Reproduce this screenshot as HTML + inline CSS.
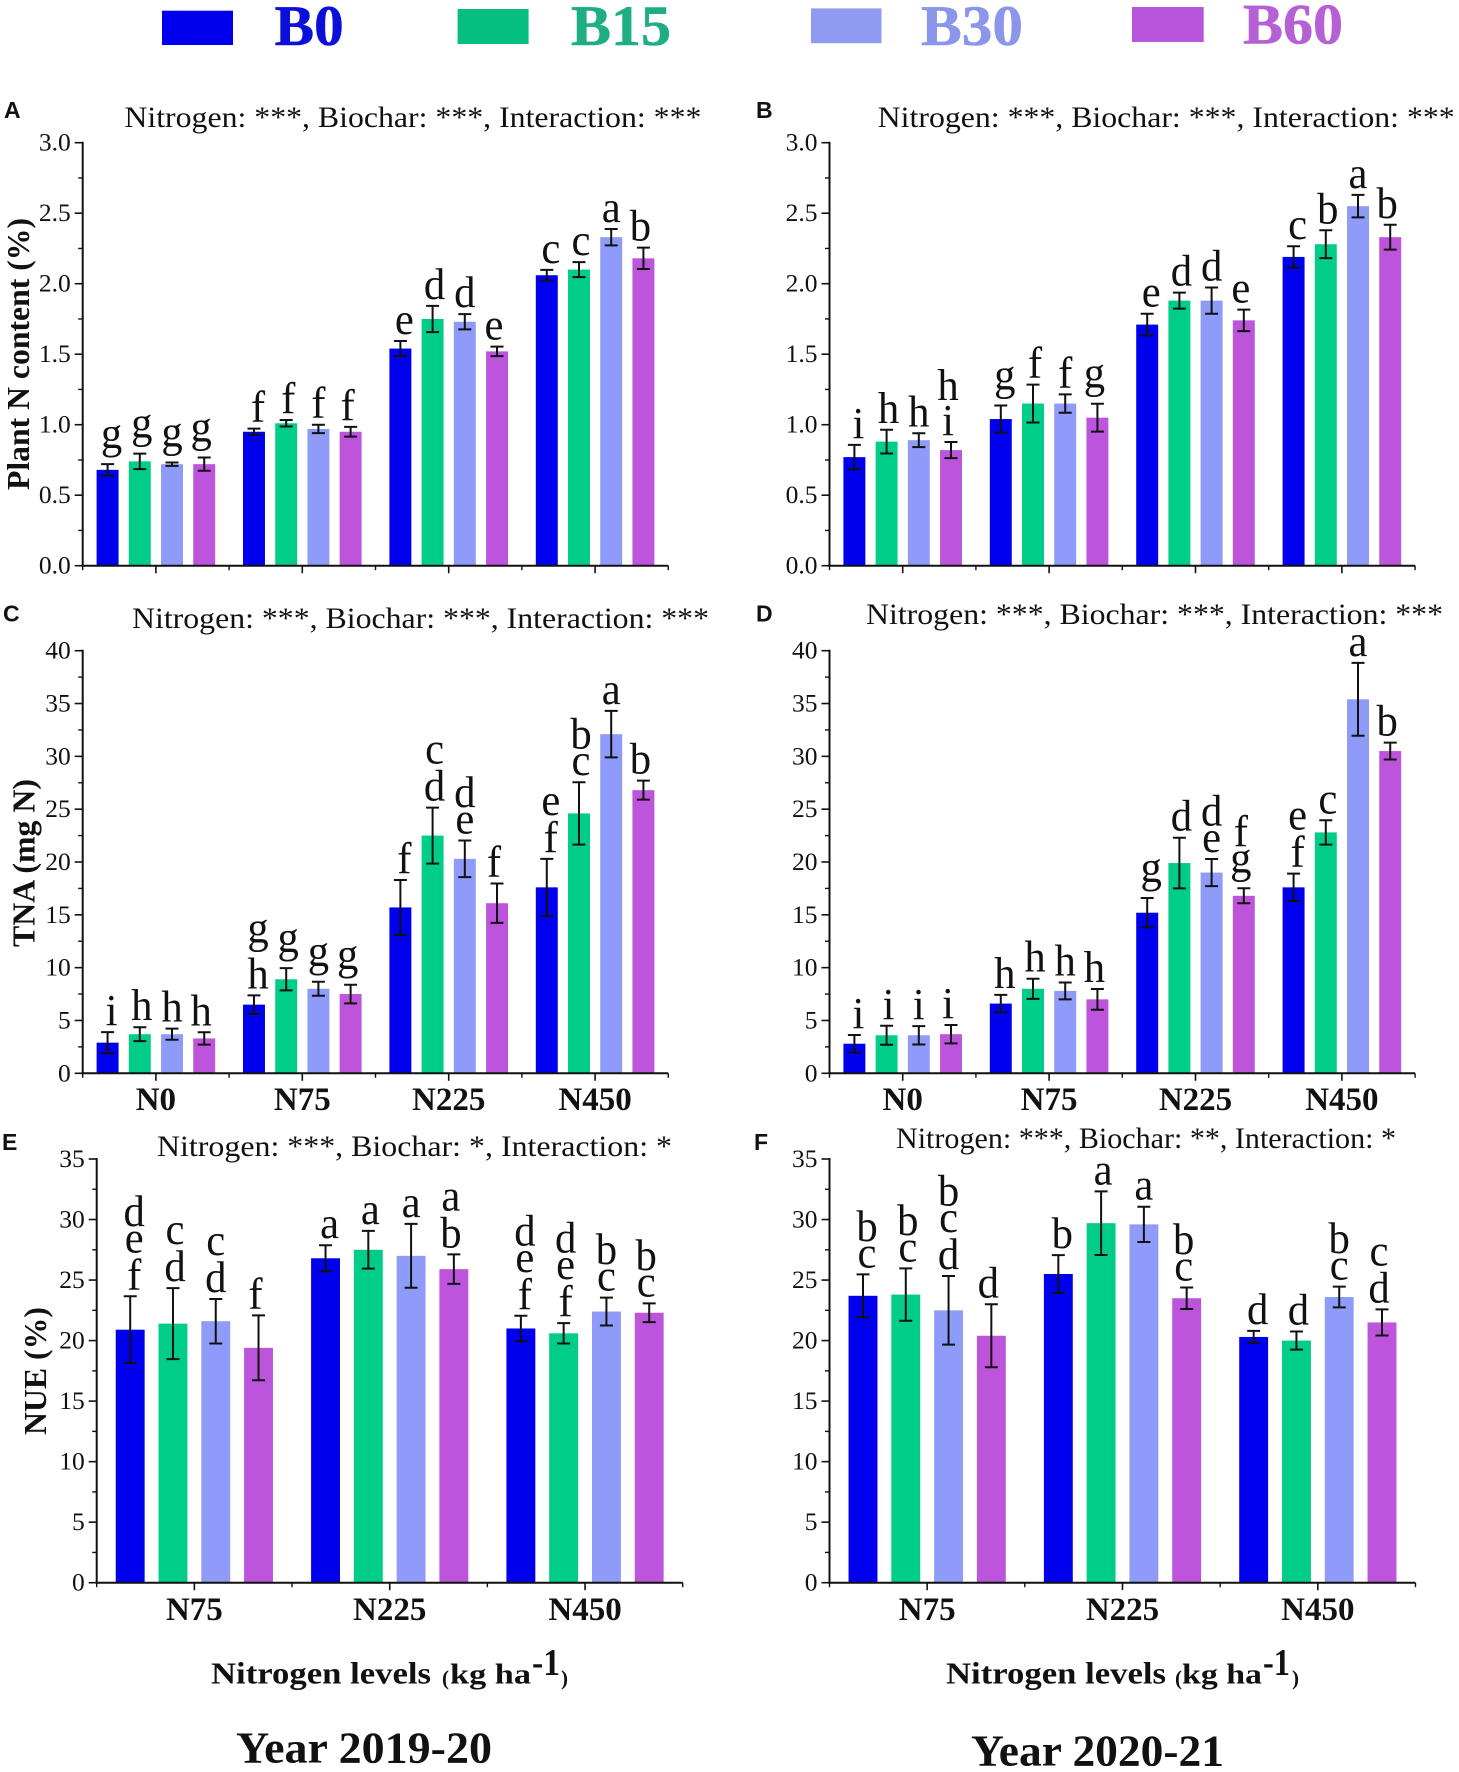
<!DOCTYPE html>
<html lang="en">
<head>
<meta charset="utf-8">
<title>Plant N content, TNA and NUE by nitrogen and biochar levels</title>
<style>
html,body{margin:0;padding:0;background:#fff;width:1459px;height:1772px;overflow:hidden}
svg{display:block}
text{font-family:"Liberation Serif",serif;fill:#111}
.b{font-weight:bold}
.sans{font-family:"Liberation Sans",sans-serif;font-weight:bold}
</style>
</head>
<body>
<svg id="figure" xmlns="http://www.w3.org/2000/svg" width="1459" height="1772" viewBox="0 0 1459 1772">
  <rect x="0" y="0" width="1459" height="1772" fill="#fff"/>

  <g>
    <rect x="162" y="10.7" width="71" height="34.3" fill="#0000ee"/>
    <text class="b" x="274.7" y="45" font-size="57" textLength="69" lengthAdjust="spacingAndGlyphs" style="fill:#0a10d8;stroke:#0a10d8;stroke-width:.6">B0</text>
    <rect x="457.6" y="9" width="71" height="35" fill="#05bf80"/>
    <text class="b" x="571" y="45" font-size="57" textLength="100" lengthAdjust="spacingAndGlyphs" style="fill:#1fae84;stroke:#1fae84;stroke-width:.6">B15</text>
    <rect x="811" y="8.4" width="70.5" height="34.8" fill="#8f9bf0"/>
    <text class="b" x="921" y="45" font-size="57" textLength="102" lengthAdjust="spacingAndGlyphs" style="fill:#8b96ea;stroke:#8b96ea;stroke-width:.6">B30</text>
    <rect x="1132" y="7" width="71.7" height="35" fill="#b855d8"/>
    <text class="b" x="1243" y="43.6" font-size="57" textLength="100" lengthAdjust="spacingAndGlyphs" style="fill:#b660d5;stroke:#b660d5;stroke-width:.6">B60</text>
  </g>

  <g>
    <text class="sans" x="4" y="118" font-size="23">A</text>
    <text class="sans" x="756" y="118" font-size="23">B</text>
    <text class="sans" x="3" y="621.6" font-size="23">C</text>
    <text class="sans" x="756" y="621.6" font-size="23">D</text>
    <text class="sans" x="2" y="1150" font-size="23">E</text>
    <text class="sans" x="754" y="1150" font-size="23">F</text>
  </g>

  <g>
    <text x="124.4" y="127" font-size="30" textLength="577" lengthAdjust="spacingAndGlyphs">Nitrogen: ***, Biochar: ***, Interaction: ***</text>
    <text x="877.7" y="127" font-size="30" textLength="577" lengthAdjust="spacingAndGlyphs">Nitrogen: ***, Biochar: ***, Interaction: ***</text>
    <text x="132" y="628" font-size="30" textLength="577" lengthAdjust="spacingAndGlyphs">Nitrogen: ***, Biochar: ***, Interaction: ***</text>
    <text x="866" y="624" font-size="30" textLength="577" lengthAdjust="spacingAndGlyphs">Nitrogen: ***, Biochar: ***, Interaction: ***</text>
    <text x="157" y="1156" font-size="30" textLength="515" lengthAdjust="spacingAndGlyphs">Nitrogen: ***, Biochar: *, Interaction: *</text>
    <text x="896" y="1148" font-size="30" textLength="500" lengthAdjust="spacingAndGlyphs">Nitrogen: ***, Biochar: **, Interaction: *</text>
  </g>

  <g>
    <text class="b" transform="translate(29,490) rotate(-90)" font-size="32" textLength="272" lengthAdjust="spacingAndGlyphs">Plant N content (%)</text>
    <text class="b" transform="translate(34.5,947) rotate(-90)" font-size="32" textLength="168" lengthAdjust="spacingAndGlyphs">TNA (mg N)</text>
    <text class="b" transform="translate(46,1435) rotate(-90)" font-size="32" textLength="128" lengthAdjust="spacingAndGlyphs">NUE (%)</text>
  </g>

  <g>
    <text class="b" x="211" y="1683.4" font-size="31" textLength="220" lengthAdjust="spacingAndGlyphs">Nitrogen levels</text>
    <text class="b" x="442" y="1685" font-size="21">(</text>
    <text class="b" x="450" y="1683.4" font-size="29" textLength="81" lengthAdjust="spacingAndGlyphs">kg ha</text>
    <text class="b" x="532" y="1675" font-size="38" textLength="28" lengthAdjust="spacingAndGlyphs">-1</text>
    <text class="b" x="561" y="1685" font-size="21">)</text>
  </g>
  <g>
    <text class="b" x="946" y="1683.4" font-size="31" textLength="220" lengthAdjust="spacingAndGlyphs">Nitrogen levels</text>
    <text class="b" x="1175" y="1685" font-size="21">(</text>
    <text class="b" x="1182" y="1683.4" font-size="29" textLength="80" lengthAdjust="spacingAndGlyphs">kg ha</text>
    <text class="b" x="1263" y="1675" font-size="38" textLength="27" lengthAdjust="spacingAndGlyphs">-1</text>
    <text class="b" x="1292" y="1685" font-size="21">)</text>
  </g>

  <text class="b" x="236" y="1762.4" font-size="44" textLength="256" lengthAdjust="spacingAndGlyphs">Year 2019-20</text>
  <text class="b" x="971" y="1765.7" font-size="44" textLength="253" lengthAdjust="spacingAndGlyphs">Year 2020-21</text>
</svg>

<script>
const seriesNames = ['B0', 'B15', 'B30', 'B60'];
const seriesColors = ['#0000ee', '#00ce88', '#8f9bf8', '#bc55db'];

const categoriesFour = ['N0', 'N75', 'N225', 'N450'];
const categoriesThree = ['N75', 'N225', 'N450'];

const plantNTicks = ['0.0', '0.5', '1.0', '1.5', '2.0', '2.5', '3.0'];
const tnaTicks = ['0', '5', '10', '15', '20', '25', '30', '35', '40'];
const nueTicks = ['0', '5', '10', '15', '20', '25', '30', '35'];

const panelAValues = [[0.68, 0.74, 0.72, 0.72], [0.95, 1.01, 0.97, 0.95], [1.54, 1.75, 1.73, 1.52], [2.06, 2.10, 2.33, 2.18]];
const panelAErrors = [[0.04, 0.055, 0.012, 0.047], [0.022, 0.023, 0.03, 0.035], [0.054, 0.093, 0.054, 0.034], [0.038, 0.053, 0.058, 0.076]];
const panelALetters = [['g', 'g', 'g', 'g'], ['f', 'f', 'f', 'f'], ['e', 'd', 'd', 'e'], ['c', 'c', 'a', 'b']];

const panelBValues = [[0.77, 0.88, 0.89, 0.82], [1.04, 1.15, 1.15, 1.05], [1.71, 1.88, 1.88, 1.74], [2.19, 2.28, 2.55, 2.33]];
const panelBErrors = [[0.087, 0.084, 0.049, 0.057], [0.096, 0.134, 0.065, 0.099], [0.077, 0.057, 0.093, 0.076], [0.076, 0.099, 0.08, 0.088]];
const panelBLetters = [['i', 'h', 'h', 'hi'], ['g', 'f', 'f', 'g'], ['e', 'd', 'd', 'e'], ['c', 'b', 'a', 'b']];

const panelCValues = [[2.9, 3.7, 3.7, 3.3], [6.5, 8.9, 8.0, 7.5], [15.7, 22.5, 20.3, 16.1], [17.6, 24.6, 32.1, 26.8]];
const panelCErrors = [[1.0, 0.66, 0.53, 0.58], [0.88, 1.05, 0.66, 0.88], [2.6, 2.65, 1.73, 1.86], [2.7, 2.95, 2.2, 0.9]];
const panelCLetters = [['i', 'h', 'h', 'h'], ['gh', 'g', 'g', 'g'], ['f', 'cd', 'de', 'f'], ['ef', 'bc', 'a', 'b']];

const panelDValues = [[2.8, 3.6, 3.6, 3.7], [6.6, 8.0, 7.8, 7.0], [15.2, 19.9, 19.0, 16.8], [17.6, 22.8, 35.4, 30.5]];
const panelDErrors = [[0.83, 0.9, 0.87, 0.87], [0.82, 0.95, 0.8, 0.98], [1.39, 2.4, 1.28, 0.71], [1.3, 1.15, 3.45, 0.8]];
const panelDLetters = [['i', 'i', 'i', 'i'], ['h', 'h', 'h', 'h'], ['g', 'd', 'de', 'fg'], ['ef', 'c', 'a', 'b']];

const panelEValues = [[20.9, 21.4, 21.6, 19.4], [26.8, 27.5, 27.0, 25.9], [21.0, 20.6, 22.4, 22.3]];
const panelEErrors = [[2.76, 2.93, 1.84, 2.68], [1.08, 1.56, 2.64, 1.22], [1.05, 0.84, 1.15, 0.77]];
const panelELetters = [['def', 'cd', 'cd', 'f'], ['a', 'a', 'a', 'ab'], ['def', 'def', 'bc', 'bc']];

const panelFValues = [[23.7, 23.8, 22.5, 20.4], [25.5, 29.7, 29.6, 23.5], [20.3, 20.0, 23.6, 21.5]];
const panelFErrors = [[1.77, 2.16, 2.83, 2.6], [1.56, 2.63, 1.46, 0.89], [0.5, 0.75, 0.86, 1.08]];
const panelFLetters = [['bc', 'bc', 'bcd', 'd'], ['b', 'a', 'a', 'bc'], ['d', 'd', 'bc', 'cd']];

const SVG_NS = 'http://www.w3.org/2000/svg';
const figure = document.getElementById('figure');

function make(tag, parent, attrs, content) {
  const el = document.createElementNS(SVG_NS, tag);
  for (const k in attrs) el.setAttribute(k, attrs[k]);
  if (content !== undefined) el.textContent = content;
  parent.appendChild(el);
  return el;
}

function letterInk(ch) {
  if (ch === 'g') return { up: 19.5, down: 9 };
  if (ch === 'i') return { up: 28, down: 0 };
  if ('bdfh'.indexOf(ch) >= 0) return { up: 30, down: 0 };
  return { up: 19.5, down: 0 };
}

function drawPanel(p) {
  const catW = (p.right - p.left) / p.categories.length;
  const maxTick = Number(p.ticks[p.ticks.length - 1]);
  const minorStep = Number(p.ticks[1]) / 2;
  const xScale = (g, s) => p.left + (g + 0.5) * catW + (s - 1.5) * p.step * catW;
  const yScale = v => p.bottom - (v / maxTick) * (p.bottom - p.top);
  const labelShift = [4, 2, 0, -3];

  const group = make('g', figure, {});
  
  

  p.values.forEach((vals, g) => {
    vals.forEach((v, s) => {
      const cx = xScale(g, s);
      const w = p.width * catW;
      const bar = make('rect', group, { x: cx - w / 2, y: yScale(v), width: w, height: p.bottom - yScale(v), fill: seriesColors[s] });
      
      

      const e = p.errors[g][s];
      const yTop = yScale(v + e);
      const yBot = yScale(v - e);
      const err = make('path', group, { d: 'M' + (cx - 6.5) + ' ' + yTop + 'H' + (cx + 6.5) + 'M' + cx + ' ' + yTop + 'V' + yBot + 'M' + (cx - 6.5) + ' ' + yBot + 'H' + (cx + 6.5), stroke: '#111', 'stroke-width': 2, fill: 'none' });
      
      

      const chars = p.letters[g][s].split('');
      let inkTop = yTop;
      for (let i = chars.length - 1; i >= 0; i--) {
        const ink = letterInk(chars[i]);
        const baseline = inkTop - 7 - ink.down;
        const letter = make('text', group, { transform: 'translate(' + (cx + labelShift[s]) + ',' + baseline + ') scale(0.97,1)', 'text-anchor': 'middle', 'font-size': 44 }, chars[i]);
        
        
        inkTop = baseline - ink.up;
      }
    });
  });

  const yAxis = make('line', group, { x1: p.left, x2: p.left, y1: p.top - 1, y2: p.bottom + 1, stroke: '#111', 'stroke-width': 2 });
  
  

  const xAxis = make('line', group, { x1: p.left - 1, x2: p.right, y1: p.bottom, y2: p.bottom, stroke: '#111', 'stroke-width': 2 });
  
  

  p.ticks.forEach((label, i) => {
    const v = Number(label);
    const y = yScale(v);
    const tick = make('line', group, { x1: p.left - 8, x2: p.left, y1: y, y2: y, stroke: '#111', 'stroke-width': 1.6 });
    
    

    const tickLabel = make('text', group, { x: p.left - 12, y: y + 8, 'text-anchor': 'end', 'font-size': 25.5 }, label);
    
    

    if (i < p.ticks.length - 1) {
      const ym = yScale(v + minorStep);
      const minor = make('line', group, { x1: p.left - 4.5, x2: p.left, y1: ym, y2: ym, stroke: '#111', 'stroke-width': 1.4 });
      
      
    }
  });

  for (let g = 0; g <= p.categories.length; g++) {
    const xm = p.left + g * catW;
    const minorX = make('line', group, { x1: xm, x2: xm, y1: p.bottom, y2: p.bottom + 4.5, stroke: '#111', 'stroke-width': 1.4 });
    
    
  }

  p.categories.forEach((c, g) => {
    const xc = p.left + (g + 0.5) * catW;
    const majorX = make('line', group, { x1: xc, x2: xc, y1: p.bottom, y2: p.bottom + 7.5, stroke: '#111', 'stroke-width': 1.6 });
    
    

    if (p.labelY) {
      const catLabel = make('text', group, { x: xc, y: p.labelY, 'text-anchor': 'middle', 'font-size': 33, 'font-weight': 'bold' }, c);
      
      
    }
  });
}

drawPanel({ id: 'a', left: 82.7, right: 668.3, top: 142.7, bottom: 565.7, step: 0.22, width: 0.15, categories: categoriesFour, ticks: plantNTicks, values: panelAValues, errors: panelAErrors, letters: panelALetters });
drawPanel({ id: 'b', left: 829.5, right: 1415.1, top: 142.7, bottom: 565.7, step: 0.22, width: 0.15, categories: categoriesFour, ticks: plantNTicks, values: panelBValues, errors: panelBErrors, letters: panelBLetters });
drawPanel({ id: 'c', left: 82.7, right: 668.3, top: 650.7, bottom: 1073.3, step: 0.22, width: 0.15, categories: categoriesFour, ticks: tnaTicks, values: panelCValues, errors: panelCErrors, letters: panelCLetters, labelY: 1110 });
drawPanel({ id: 'd', left: 829.5, right: 1415.1, top: 650.7, bottom: 1073.3, step: 0.22, width: 0.15, categories: categoriesFour, ticks: tnaTicks, values: panelDValues, errors: panelDErrors, letters: panelDLetters, labelY: 1110 });
drawPanel({ id: 'e', left: 96.7, right: 682.7, top: 1159, bottom: 1582.7, step: 0.219, width: 0.148, categories: categoriesThree, ticks: nueTicks, values: panelEValues, errors: panelEErrors, letters: panelELetters, labelY: 1620 });
drawPanel({ id: 'f', left: 829.5, right: 1415.5, top: 1159, bottom: 1582.7, step: 0.219, width: 0.148, categories: categoriesThree, ticks: nueTicks, values: panelFValues, errors: panelFErrors, letters: panelFLetters, labelY: 1620 });
</script>
</body>
</html>
